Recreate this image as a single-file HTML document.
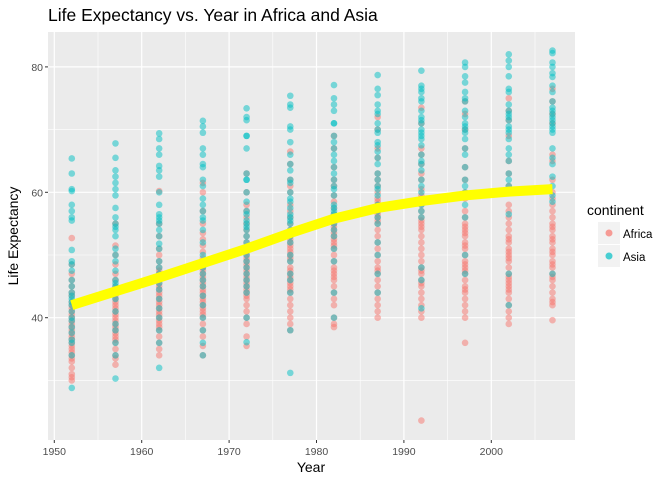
<!DOCTYPE html>
<html><head><meta charset="utf-8"><style>
body{margin:0;background:#fff}
svg{display:block;font-family:"Liberation Sans",Arial,sans-serif}
</style></head><body>
<svg id="chart" width="672" height="480">
<rect x="0" y="0" width="672" height="480" fill="#fff"/>
<text x="48" y="21" font-size="17.5" fill="#000">Life Expectancy vs. Year in Africa and Asia</text>
<rect x="48" y="32" width="527" height="408" fill="#ebebeb"/>
<g id="grid"></g>
<g id="pts"></g>
<g id="smooth"></g>
<g id="axes"></g>
<text x="311" y="472" font-size="14" text-anchor="middle">Year</text>
<text transform="translate(18,236) rotate(-90)" font-size="14" text-anchor="middle">Life Expectancy</text>
<g>
<text x="587" y="215" font-size="14">continent</text>
<rect x="598" y="222" width="22" height="22" fill="#f2f2f2"/>
<circle cx="609" cy="233" r="3.5" fill="#F8766D" fill-opacity="0.7"/>
<text x="623" y="238" font-size="11.5">Africa</text>
<rect x="598" y="245" width="22" height="22" fill="#f2f2f2"/>
<circle cx="609" cy="256" r="3.5" fill="#00BFC4" fill-opacity="0.7"/>
<text x="623" y="261" font-size="11.5">Asia</text>
</g>
</svg>
<script>
const years=[1952,1957,1962,1967,1972,1977,1982,1987,1992,1997,2002,2007];
const xTicks=[1950,1960,1970,1980,1990,2000];
const yTicks=[40,60,80];
const africa=[
[52.7,48.5,47,46,45,44,43.5,42.5,42,41.5,41,40.5,40,39.5,39,38.5,38,37.5,37,36.5,36,35.5,35,34.5,34,33.5,33,32,31,30.5,30],
[55,51.5,50,48.5,47,46,45,44.5,44,43.5,43,42.5,42,41.5,41,40.5,40,39.5,39,38.5,38,37.5,37,36.5,36,35,34,33.5,32.5],
[60.2,55,53,51,50,49,48,47.5,47,46.5,46,45.5,45,44.5,44,43.5,43,42.5,42,41.5,41,40.5,40,39.5,39,38.5,38,37,36,35,34],
[61.5,60,57,55,53.5,52.5,51.5,50.5,49.5,49,48.5,48,47.5,47,46.5,46,45.5,45,44.5,44,43.5,43,42.5,42,41.5,41,40.5,40,39,38,37,35.5,34],
[63,60,58,57,56,55,54,53,52,51,50.5,50,49.5,49,48.5,48,47.5,47,46.5,46,45.5,45,44.5,44,43.5,43,42,41,40,39,37,35.5],
[66.5,64.5,62,61,60,58,57,56,55,54,53,52.5,52,51.5,51,50.5,50,49.5,49,48,47.5,47,46.5,46,45.5,45,44.5,44,43,42,41,40,39,38],
[69,67,64,62,61,59.5,58.5,57.5,56.5,55.5,55,54.5,54,53.5,53,52.5,52,51.5,51,50,49,48,47.5,47,46.5,46,45,44,43,42,40,39,38.5],
[72,70,67,65.5,63,62,61,60,59,58.5,58,57.5,57,56.5,56,55.5,55,54,53,52,51,50,49,48,47.5,47,46,45,44,43,42,41,40],
[73.5,71,67,66,64.5,63,62,60.5,59.5,59,58,57,56,55.5,55,54.5,54,53,52,51,50,49,48,47.5,47,46,45.5,45,44,43,42,41,40,23.6],
[74.5,72.5,70,67,64,62,60,59,57,56,55,54.5,54,53.5,53,52,51.5,51,50,49,48.5,48,47.5,47,46,45,44.5,44,43,42,41,40,36],
[75,73,71.5,69,65,63,61,58,57,56,55,54,53,52.5,52,51,50.5,50,49.5,49,48,47,46.5,46,45.5,45,44.5,44,43,42,41,40,39],
[76.5,74.5,72.5,71,66,65,62,60,59,58,57,56,55,54.5,54,53,52.5,52,51,50.5,50,49,48.5,48,47,46.5,46,45,44,43,42.5,42,39.6]
];
const asia=[
[65.4,63,60.5,60.2,58,57,56,55.5,50.8,49,48.5,47.5,46,45,44,43.5,43,42.5,42,41,40,39.5,38.5,37.6,36.5,36,34,28.8],
[67.8,65.5,63.5,62.5,61.5,60.5,59.5,57.5,56,55,54.5,54,53,51,50,49,47.5,46,45.5,45,44,43,41,39,38,36,34,30.3],
[69.4,68.5,67,66,64.2,63.5,62.5,60,58,56.5,56,55.5,55,54,53,51.8,51,49,48,47,45.5,44.5,43,41.5,40,38,36,32],
[71.4,70.5,69.5,67,66,64.5,64,62,61,59,58,57,56,55.5,54,52,50,49,48,47,46,45,43.5,42,40,38,36,34],
[73.4,72,71.5,69,69,67,63,62,62,60,58.5,57,56.5,55.5,55,54.5,54,53,52,51,50,49,48,47,46,45,44,40,36.1],
[75.4,74,73.5,70.5,70,68,66,64.5,63.5,62,61.5,60,59,58.5,57.5,56.5,56,55.5,55,54,53,52,50,49,47,46,44,38,31.2],
[77.1,75,74,73,71,71,69,68,67,66,65,64,63,62,61,60.5,59.5,58,57.5,57,56.5,55,54,53,51,49,44,40],
[78.7,76.5,75.5,74,73,72.5,71,70,69.5,68,67.5,66.5,65.5,64.5,63,62,61,60.5,59.5,58,57,56,55,52,50,47,44],
[79.4,77,76.5,76,75,74.5,73,72,71.5,71,70,69.5,69,68.5,67.5,66,65,64.5,63.5,62,61,60,58,57,56,48,46,41.5],
[80.7,80,78.5,77.5,76,75,74.5,73,72,71,70.5,70,69.5,68.5,67,66,64,62,61,60,59.5,58,56,50,47],
[82,81,80,78.5,76.5,76,74,73,72.5,72,71.5,70.5,70,69.5,68.5,67,66,65,63,62,61,60,56.5,47,42],
[82.6,82.2,80.7,80,79,78.4,77,76,74.5,73.5,73,72.5,72,71.5,71,70.5,70,69.5,67,65.5,64.5,62.5,61,59.5,58.5,47]
];
const smoothVals=[42,44.2,46.4,48.7,51,53.5,55.8,57.5,58.6,59.5,60.1,60.5];
const NS='http://www.w3.org/2000/svg';
const X=v=>54.3+(v-1950)*8.74;
const Y=v=>317.7-(v-40)*6.27;
function mk(tag,attrs,parent){const e=document.createElementNS(NS,tag);for(const k in attrs)e.setAttribute(k,attrs[k]);parent.appendChild(e);return e;}
const grid=document.getElementById('grid');
[1955,1965,1975,1985,1995,2005].forEach(v=>{const l=mk('line',{x1:X(v),x2:X(v),y1:32,y2:440,stroke:'#fff','stroke-width':0.6},grid);

});
[30,50,70].forEach(v=>{const l=mk('line',{x1:48,x2:575,y1:Y(v),y2:Y(v),stroke:'#fff','stroke-width':0.6},grid);

});
xTicks.forEach(v=>{const l=mk('line',{x1:X(v),x2:X(v),y1:32,y2:440,stroke:'#fff','stroke-width':1.2},grid);

});
yTicks.forEach(v=>{const l=mk('line',{x1:48,x2:575,y1:Y(v),y2:Y(v),stroke:'#fff','stroke-width':1.2},grid);

});
const axes=document.getElementById('axes');
xTicks.forEach(v=>{const t=mk('line',{x1:X(v),x2:X(v),y1:440,y2:443,stroke:'#333'},axes);


const tx=mk('text',{x:X(v),y:455,'font-size':10.5,fill:'#4d4d4d','text-anchor':'middle'},axes);tx.textContent=v;

});
yTicks.forEach(v=>{const t=mk('line',{x1:45,x2:48,y1:Y(v),y2:Y(v),stroke:'#333'},axes);


const tx=mk('text',{x:43,y:Y(v)+4,'font-size':10.5,fill:'#4d4d4d','text-anchor':'end'},axes);tx.textContent=v;

});
const pts=document.getElementById('pts');
function drawSeries(data,color,name){data.forEach((arr,i)=>arr.forEach(v=>{const c=mk('circle',{cx:X(years[i]),cy:Y(v),r:3.3,fill:color,'fill-opacity':0.5},pts);

}));}
drawSeries(africa,'#F8766D','point-africa');
drawSeries(asia,'#00BFC4','point-asia');
const sm=document.getElementById('smooth');
const p=mk('polyline',{points:smoothVals.map((v,i)=>X(years[i])+','+Y(v)).join(' '),fill:'none',stroke:'#ffff00','stroke-width':10},sm);


</script>
</body></html>
